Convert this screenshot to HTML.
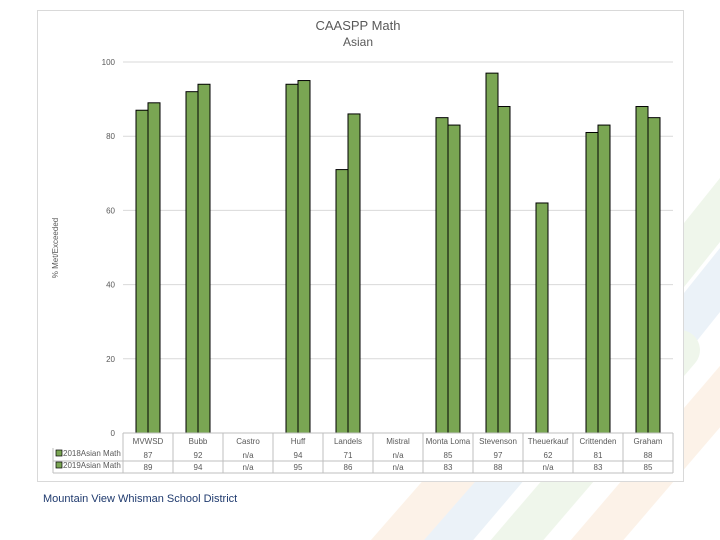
<!DOCTYPE html>
<html style="overflow:hidden;width:720px;height:540px"><head><meta charset="utf-8"><style>
html,body{margin:0;width:720px;height:540px;overflow:hidden}
body{background:#fff;position:relative;font-family:"Liberation Sans",sans-serif}
</style></head><body>
<svg width="720" height="540" style="position:absolute;left:0;top:0" opacity="0.55">
<g stroke-width="40" stroke-linecap="round">
<line x1="600" y1="360" x2="760" y2="160" stroke="#e3efdc"/>
<line x1="600" y1="430" x2="760" y2="230" stroke="#dbe8f3"/>
<line x1="430" y1="560" x2="600" y2="360" stroke="#dbe8f3"/>
<line x1="500" y1="560" x2="680" y2="350" stroke="#e3efdc"/>
<line x1="580" y1="560" x2="760" y2="350" stroke="#fbe9d6"/>
<line x1="380" y1="560" x2="520" y2="400" stroke="#fbe9d6"/>
</g></svg>
<svg id="chart" width="720" height="540" style="position:absolute;left:0;top:0" font-family="Liberation Sans, sans-serif"></svg>
<div style="position:absolute;left:43px;top:493px;font-size:11px;color:#1f3a6e">Mountain View Whisman School District</div>
<script>
const categories=["MVWSD","Bubb","Castro","Huff","Landels","Mistral","Monta Loma","Stevenson","Theuerkauf","Crittenden","Graham"];
const series2018=[87,92,null,94,71,null,85,97,62,81,88];
const series2019=[89,94,null,95,86,null,83,88,null,83,85];
const yTicks=[0,20,40,60,80,100];
const seriesNames=["2018Asian Math","2019Asian Math"];
const svg=document.getElementById('chart');const NS="http://www.w3.org/2000/svg";
function mk(t,a,p){const e=document.createElementNS(NS,t);for(const k in a)e.setAttribute(k,a[k]);(p||svg).appendChild(e);return e;}
const X0=123,X1=673,Y0=433,Y1=62;
const y=v=>Y0-(v-0)/(100-0)*(Y0-Y1);
const bw=(X1-X0)/categories.length;
const x=i=>X0+i*bw;
let f=mk('rect',{x:37.5,y:10.5,width:646,height:471,fill:'#fff',stroke:'#d9d9d9'});

let t=mk('text',{x:358,y:30,'text-anchor':'middle','font-size':13,fill:'#595959'});t.textContent='CAASPP Math';

t=mk('text',{x:358,y:46,'text-anchor':'middle','font-size':12,fill:'#595959'});t.textContent='Asian';

t=mk('text',{x:58,y:248,'text-anchor':'middle','font-size':8,fill:'#595959',transform:'rotate(-90 58 248)'});t.textContent='% Met/Exceeded';

yTicks.forEach(v=>{
 if(v>0){const g=mk('line',{x1:X0,x2:X1,y1:y(v),y2:y(v),stroke:'#d9d9d9'});}
 const l=mk('text',{x:115,y:y(v)+3,'text-anchor':'end','font-size':8,fill:'#595959'});l.textContent=v;
 
});
categories.forEach((c,i)=>{
 const cx=x(i)+bw/2;
 [series2018[i],series2019[i]].forEach((v,s)=>{
  if(v==null)return;
  const r=mk('rect',{x:cx-12+s*12,y:y(v),width:12,height:Y0-y(v),fill:'#7aa653',stroke:'#000','stroke-width':1});
  
  
 });
});
const rows=[433,448,461,473];
const tg=mk('g',{});
mk('line',{x1:X0,x2:X1,y1:rows[0],y2:rows[0],stroke:'#bfbfbf'},tg);
mk('line',{x1:53,x2:X1,y1:rows[2],y2:rows[2],stroke:'#bfbfbf'},tg);
mk('line',{x1:53,x2:X1,y1:rows[3],y2:rows[3],stroke:'#bfbfbf'},tg);
mk('line',{x1:53,x2:53,y1:rows[1],y2:rows[3],stroke:'#bfbfbf'},tg);
for(let i=0;i<=categories.length;i++)mk('line',{x1:x(i),x2:x(i),y1:rows[0],y2:rows[3],stroke:'#bfbfbf'},tg);
categories.forEach((c,i)=>{
 const cx=x(i)+bw/2;
 let e=mk('text',{x:cx,y:444,'text-anchor':'middle','font-size':8,fill:'#595959'},tg);e.textContent=c;
 
 e=mk('text',{x:cx,y:458,'text-anchor':'middle','font-size':8,fill:'#595959'},tg);e.textContent=series2018[i]==null?'n/a':series2018[i];
 
 e=mk('text',{x:cx,y:470,'text-anchor':'middle','font-size':8,fill:'#595959'},tg);e.textContent=series2019[i]==null?'n/a':series2019[i];
 
});
seriesNames.forEach((n,s)=>{
 const yy=s?467:455;
 let k=mk('rect',{x:56,y:yy-5,width:6,height:6,fill:'#7aa653',stroke:'#000','stroke-width':.7},tg);
 
 let e=mk('text',{x:63,y:yy+1,'font-size':8,fill:'#595959'},tg);e.textContent=n;
 
});
</script>
</body></html>
